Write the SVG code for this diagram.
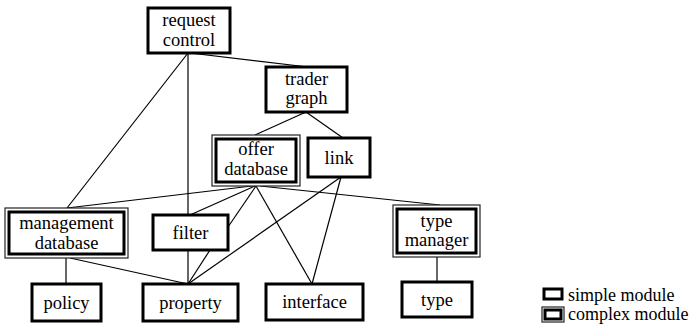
<svg xmlns="http://www.w3.org/2000/svg" width="693" height="334" viewBox="0 0 693 334">
<style>
  .box{fill:#fff;stroke:#000;stroke-width:3}
  .outer{fill:#fff;stroke:#222;stroke-width:1.2}
  .lbl{font-size:18.5px;fill:#000;text-anchor:middle}
  .leg{font-size:18px;fill:#000}
  #connectors line{stroke:#000;stroke-width:1.2}
</style>
<rect width="693" height="334" fill="#fff"/>
<g id="connectors">
  <line x1="188" y1="53" x2="67" y2="208"/>
  <line x1="188" y1="53" x2="188" y2="215"/>
  <line x1="190" y1="53" x2="308" y2="67"/>
  <line x1="306" y1="112" x2="255" y2="135"/>
  <line x1="306" y1="112" x2="343" y2="138"/>
  <line x1="252" y1="186" x2="67" y2="208"/>
  <line x1="255" y1="186" x2="190" y2="215"/>
  <line x1="256" y1="186" x2="228" y2="227"/>
  <line x1="256" y1="186" x2="312" y2="284"/>
  <line x1="260" y1="186" x2="440" y2="205"/>
  <line x1="341" y1="177" x2="188" y2="284"/>
  <line x1="341" y1="177" x2="312" y2="284"/>
  <line x1="66" y1="258" x2="66" y2="284"/>
  <line x1="70" y1="258" x2="188" y2="284"/>
  <line x1="188" y1="250" x2="188" y2="284"/>
  <line x1="210" y1="250" x2="188" y2="284"/>
  <line x1="437" y1="257" x2="437" y2="282"/>
</g>
<g font-family="'Liberation Serif', 'Times New Roman', 'DejaVu Serif', serif">
<g id="request-control">
  <rect class="box" x="148" y="8" width="82" height="45"/>
  <text class="lbl" x="189" y="26">request</text>
  <text class="lbl" x="189" y="46">control</text>
</g>
<g id="trader-graph">
  <rect class="box" x="266" y="67" width="81" height="45"/>
  <text class="lbl" x="306.5" y="85">trader</text>
  <text class="lbl" x="306.5" y="104">graph</text>
</g>
<g id="offer-database">
  <rect class="outer" x="212" y="135" width="88" height="51"/>
  <rect class="box" x="216" y="139" width="80" height="43"/>
  <text class="lbl" x="256" y="155">offer</text>
  <text class="lbl" x="256" y="175">database</text>
</g>
<g id="link">
  <rect class="box" x="308" y="138" width="62" height="39"/>
  <text class="lbl" x="339" y="164">link</text>
</g>
<g id="management-database">
  <rect class="outer" x="5" y="208" width="123" height="50"/>
  <rect class="box" x="9" y="212" width="115" height="42"/>
  <text class="lbl" x="66.5" y="229">management</text>
  <text class="lbl" x="66.5" y="249">database</text>
</g>
<g id="filter">
  <rect class="box" x="153" y="215" width="75" height="35"/>
  <text class="lbl" x="190.5" y="239">filter</text>
</g>
<g id="type-manager">
  <rect class="outer" x="393" y="205" width="87" height="52"/>
  <rect class="box" x="397" y="209" width="79" height="44"/>
  <text class="lbl" x="436.5" y="227">type</text>
  <text class="lbl" x="436.5" y="246">manager</text>
</g>
<g id="policy">
  <rect class="box" x="32" y="284" width="69" height="37"/>
  <text class="lbl" x="66.5" y="309">policy</text>
</g>
<g id="property">
  <rect class="box" x="143" y="284" width="95" height="37"/>
  <text class="lbl" x="190.5" y="309">property</text>
</g>
<g id="interface">
  <rect class="box" x="266" y="284" width="97" height="36"/>
  <text class="lbl" x="314.5" y="308">interface</text>
</g>
<g id="type">
  <rect class="box" x="402" y="282" width="70" height="35"/>
  <text class="lbl" x="437" y="306">type</text>
</g>
<g id="legend">
  <rect class="box" x="544" y="289" width="18" height="10"/>
  <text class="leg" x="568" y="301">simple module</text>
  <rect class="outer" x="542" y="307" width="22" height="15"/>
  <rect class="box" x="545" y="310" width="16" height="9"/>
  <text class="leg" x="568" y="320">complex module</text>
</g>
</g>
</svg>
